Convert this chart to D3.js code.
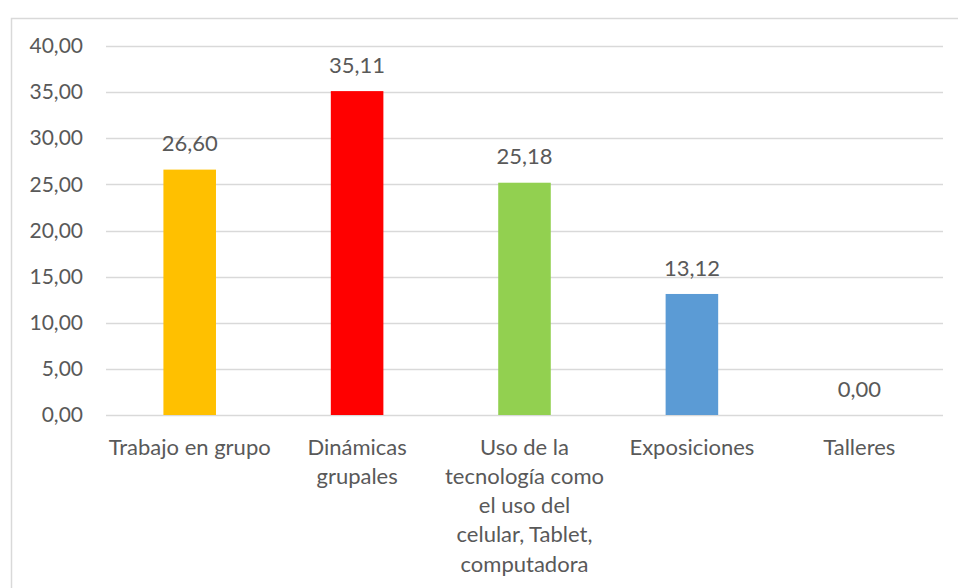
<!DOCTYPE html>
<html>
<head>
<meta charset="utf-8">
<script src="https://cdn.jsdelivr.net/npm/d3@7"></script>
<style>
  body { margin: 0; background: #fff; }
  svg text { font-family: Lato, "Open Sans", sans-serif; fill: #595959; }
</style>
</head>
<body>
<div id="chart"></div>
<script>
const categories = [
  ['Trabajo en grupo'],
  ['Dinámicas', 'grupales'],
  ['Uso de la', 'tecnología como', 'el uso del', 'celular, Tablet,', 'computadora'],
  ['Exposiciones'],
  ['Talleres']
]
const values = [26.60, 35.11, 25.18, 13.12, 0.00]
const barColors = ['#FFC000', '#FF0000', '#92D050', '#5B9BD5', '#A5A5A5']
const yTicks = [0, 5, 10, 15, 20, 25, 30, 35, 40]

const width = 958
const height = 588
const margin = { top: 46, right: 15, bottom: 173, left: 106 }

const fmt = (d) => d3.format('.2f')(d).replace('.', ',')

const svg = d3.select('#chart')
  .append('svg')
  .attr('width', width)
  .attr('height', height)

// chart frame
svg.append('rect')
  .attr('x', 11.5)
  .attr('y', 18.5)
  .attr('width', width)
  .attr('height', height)
  .attr('fill', '#fff')
  .attr('stroke', '#D9D9D9')
  .attr('stroke-width', 1.5)

const x = d3.scaleBand()
  .domain(d3.range(categories.length))
  .range([margin.left, width - margin.right])
  .padding(0)

const y = d3.scaleLinear()
  .domain([0, 40])
  .range([height - margin.bottom, margin.top])

// grid
svg.append('g')
  .selectAll('line')
  .data(yTicks)
  .enter()
  .append('line')
  .attr('x1', margin.left)
  .attr('x2', width - margin.right)
  .attr('y1', (d) => Math.round(y(d)) + 0.5)
  .attr('y2', (d) => Math.round(y(d)) + 0.5)
  .attr('stroke', '#D9D9D9')
  .attr('stroke-width', 1.5)

// y axis labels
const yAxis = d3.axisLeft(y)
  .tickValues(yTicks)
  .tickFormat(fmt)
  .tickSize(0)
  .tickPadding(23)
const gy = svg.append('g')
  .attr('transform', `translate(${margin.left},0)`)
  .call(yAxis)
gy.select('.domain').remove()
gy.selectAll('text')
  .style('font-size', '21px')
  .style('font-family', 'Lato, "Open Sans", sans-serif')
  .attr('fill', '#595959')

// bars
const barW = x.bandwidth() * 0.314
svg.append('g')
  .selectAll('rect')
  .data(values)
  .enter()
  .append('rect')
  .attr('x', (d, i) => x(i) + x.bandwidth() / 2 - barW / 2)
  .attr('y', (d) => y(d))
  .attr('width', barW)
  .attr('height', (d) => y(0) - y(d))
  .attr('fill', (d, i) => barColors[i])

// value labels
svg.append('g')
  .selectAll('text')
  .data(values)
  .enter()
  .append('text')
  .attr('x', (d, i) => x(i) + x.bandwidth() / 2)
  .attr('y', (d) => y(d) - 26)
  .attr('dy', '0.35em')
  .attr('text-anchor', 'middle')
  .style('font-size', '22px')
  .text(fmt)

// category labels
const cat = svg.append('g')
  .selectAll('text')
  .data(categories)
  .enter()
  .append('text')
  .attr('text-anchor', 'middle')
  .style('font-size', '22px')
cat.selectAll('tspan')
  .data((d, i) => d.map((line) => ({ line, i })))
  .enter()
  .append('tspan')
  .attr('x', (d) => x(d.i) + x.bandwidth() / 2)
  .attr('y', (d, j) => y(0) + 32 + j * 29.2)
  .attr('dy', '0.35em')
  .text((d) => d.line)
</script>
</body>
</html>
